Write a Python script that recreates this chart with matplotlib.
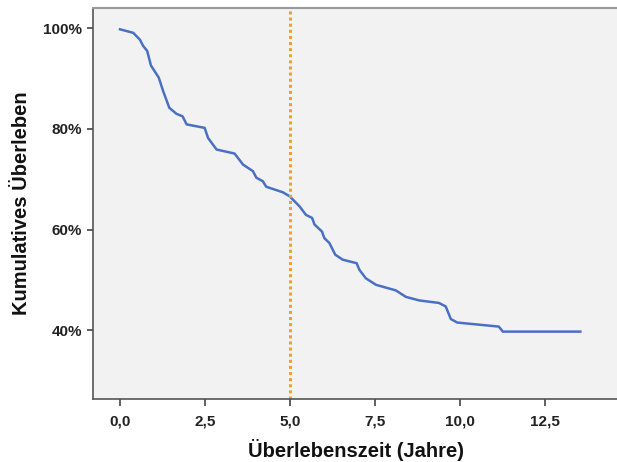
import matplotlib
matplotlib.use("Agg")
import matplotlib.pyplot as plt

plt.rcParams['font.family'] = ['Liberation Sans', 'DejaVu Sans']

# Survival curve (years, cumulative survival %)
time_years = [0.0, 0.39, 0.59, 0.68, 0.80, 0.91, 1.14, 1.27, 1.45, 1.66, 1.84, 1.96,
              2.49, 2.59, 2.84, 3.37, 3.62, 3.91, 4.01, 4.20, 4.30, 4.79, 4.99,
              5.28, 5.47, 5.65, 5.72, 5.94, 6.01, 6.16, 6.33, 6.55, 6.96, 7.04,
              7.23, 7.53, 8.11, 8.41, 8.80, 9.38, 9.58, 9.73, 9.92, 11.14, 11.26, 13.54]
survival_pct = [99.8, 99.1, 97.7, 96.5, 95.5, 92.6, 90.2, 87.5, 84.2, 83.0, 82.5, 80.9,
                80.2, 78.2, 75.9, 75.1, 72.9, 71.6, 70.3, 69.6, 68.5, 67.4, 66.6,
                64.6, 62.9, 62.3, 61.0, 59.6, 58.3, 57.3, 55.0, 54.0, 53.3, 52.0,
                50.3, 49.0, 47.9, 46.6, 45.9, 45.4, 44.7, 42.2, 41.5, 40.7, 39.7, 39.7]
ref_line_x = 5.0

x_ticks = [0.0, 2.5, 5.0, 7.5, 10.0, 12.5]
x_ticklabels = ["0,0", "2,5", "5,0", "7,5", "10,0", "12,5"]
y_ticks = [40, 60, 80, 100]
y_ticklabels = ["40%", "60%", "80%", "100%"]

W, H = 617, 462
fig = plt.figure(figsize=(W / 100, H / 100), dpi=100)
left_px, right_px, top_px, bottom_px = 93.3, 618.0, 8.3, 399.0
ax = fig.add_axes([left_px / W, (H - bottom_px) / H,
                   (right_px - left_px) / W, (bottom_px - top_px) / H])
ax.set_facecolor('#f2f2f2')

ax.plot(time_years, survival_pct, color='#4a70c4', lw=1.8, solid_joinstyle='round')
ax.axvline(ref_line_x, color='#f5a023', lw=2.2, linestyle=(0, (1, 1)))

# 34.0 px per year, 0 at x=120; 5.03 px per %, 100% at y=28.3
px_per_year = 34.0
ax.set_xlim((left_px - 120) / px_per_year, (right_px - 120) / px_per_year)
px_per_pct = 5.03
ax.set_ylim(100 - (bottom_px - 28.3) / px_per_pct, 100 + (28.3 - top_px) / px_per_pct)

ax.set_xticks(x_ticks)
ax.set_xticklabels(x_ticklabels)
ax.set_yticks(y_ticks)
ax.set_yticklabels(y_ticklabels)

for lab in ax.get_xticklabels() + ax.get_yticklabels():
    lab.set_fontweight('bold')
    lab.set_fontsize(11)
    lab.set_color('#222222')

ax.tick_params(axis='x', direction='out', length=5, width=1.2, color='#444444', pad=6)
ax.tick_params(axis='y', direction='out', length=4, width=1.2, color='#444444', pad=4)

ax.spines['left'].set_color('#555555')
ax.spines['left'].set_linewidth(1.2)
ax.spines['bottom'].set_color('#555555')
ax.spines['bottom'].set_linewidth(1.2)
ax.spines['top'].set_color('#999999')
ax.spines['top'].set_linewidth(1.5)
ax.spines['right'].set_visible(False)

ax.set_xlabel('Überlebenszeit (Jahre)', fontsize=14.5, fontweight='bold', color='#111111',
              labelpad=8)
ax.set_ylabel('Kumulatives Überleben', fontsize=14.5, fontweight='bold', color='#111111',
              labelpad=9)

fig.savefig('out.png', dpi=100, facecolor='white')
